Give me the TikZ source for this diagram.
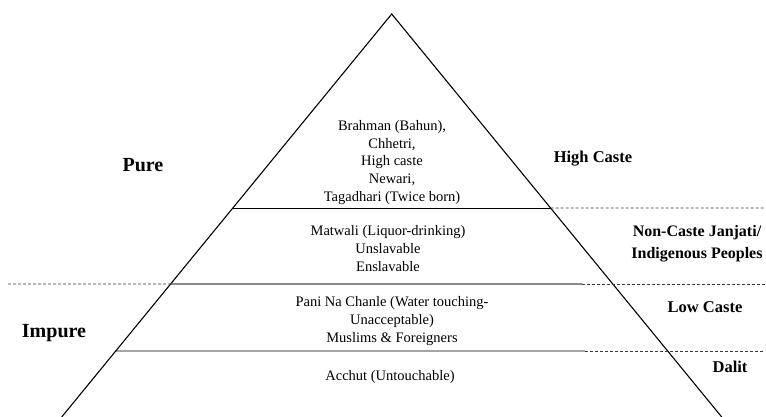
\documentclass[tikz,border=0pt]{standalone}
\usepackage{fontspec}
\setmainfont{Liberation Serif}
\usetikzlibrary{calc}

\begin{document}
\begin{tikzpicture}[x=1pt,y=-1pt,
	tier/.style={align=center,font=\fontsize{14.5}{17.6}\selectfont},
	side/.style={align=center,font=\fontsize{16.5}{22}\selectfont\bfseries},
	purity/.style={font=\fontsize{20}{24}\selectfont\bfseries},
	split/.style={gray!45!black,line width=0.9pt,dash pattern=on 3pt off 2pt}]
	\useasboundingbox (0,0) rectangle (766,417);
	% pyramid outline
	\coordinate (apex) at (391.7,14);
	\coordinate (bl) at (61.7,417);
	\coordinate (br) at (721.7,417);
	\draw[line width=1.1pt] (bl) -- (apex) -- (br);
	% tier boundaries on the left and right edges
	\coordinate (l1) at ($(bl)!0.5186!(apex)$);
	\coordinate (r1) at ($(br)!0.5186!(apex)$);
	\coordinate (l2) at ($(bl)!0.330!(apex)$);
	\coordinate (l3) at ($(bl)!0.1638!(apex)$);
	\draw[line width=0.8pt] (l1) -- (r1);
	\draw[gray!60!black,line width=1.3pt] (l2) -- (582,284) coordinate (m2);
	\draw[line width=0.8pt] (l3) -- (585,351) coordinate (m3);
	\draw[split] (r1) -- (765,208);
	\draw[split] (8,284) -- (l2);
	\draw[split] (m2) -- (765,284);
	\draw[split] (m3) -- (765,351);
	% tiers
	\node[tier] (high) at (392,162.5) {Brahman (Bahun),\\Chhetri,\\High caste\\Newari,\\Tagadhari (Twice born)};
	\node[tier] (matwali) at (388,248.5) {Matwali (Liquor-drinking)\\Unslavable\\Enslavable};
	\node[tier] (pani) at (392,321) {Pani Na Chanle (Water touching-\\Unacceptable)\\Muslims \& Foreigners};
	\node[tier] (acchut) at (390,377) {Acchut (Untouchable)};
	% purity and caste groups
	\node[purity] (pure) at (143,165) {Pure};
	\node[purity] (impure) at (54,333) {Impure};
	\node[side] (hicaste) at (593,159) {High Caste};
	\node[side,font=\fontsize{16}{22}\selectfont\bfseries] (janjati) at (697,244) {Non-Caste Janjati/\\Indigenous Peoples};
	\node[side] (locaste) at (705,307) {Low Caste};
	\node[side] (dalit) at (730,367) {Dalit};
\end{tikzpicture}
\end{document}
